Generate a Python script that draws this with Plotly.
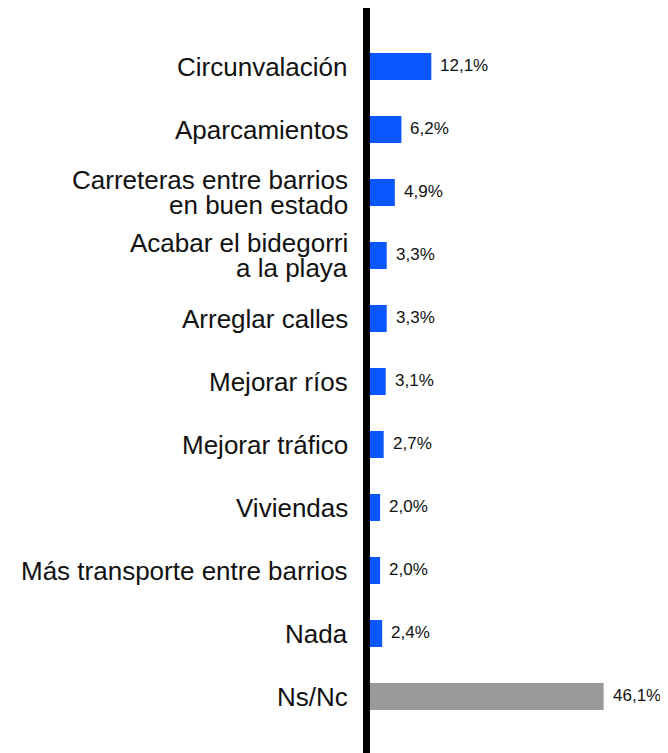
import plotly.graph_objects as go

# Respuestas (%), en el orden en que aparecen de arriba abajo
categorias = [
    "Circunvalación",
    "Aparcamientos",
    "Carreteras entre barrios<br>en buen estado",
    "Acabar el bidegorri<br>a la playa",
    "Arreglar calles",
    "Mejorar ríos",
    "Mejorar tráfico",
    "Viviendas",
    "Más transporte entre barrios",
    "Nada",
    "Ns/Nc",
]
valores = [12.1, 6.2, 4.9, 3.3, 3.3, 3.1, 2.7, 2.0, 2.0, 2.4, 46.1]
etiquetas = ["12,1%", "6,2%", "4,9%", "3,3%", "3,3%", "3,1%", "2,7%", "2,0%", "2,0%", "2,4%", "46,1%"]

AZUL = "#0a57ff"
GRIS = "#999999"
colores = [GRIS if c == "Ns/Nc" else AZUL for c in categorias]

# la pagina deja 8px de margen en el body: la figura se reduce en esa medida
ANCHO, ALTO = 660, 745
ALTO_PLOT = 693

fig = go.Figure(go.Bar(
    x=valores, y=categorias, orientation="h",
    marker_color=colores, marker_line_width=0,
    hoverinfo="skip",
))

# nombres de categoria, una anotacion por linea para controlar el interlineado
for c in categorias:
    lineas = c.split("<br>")
    n = len(lineas)
    for i, linea in enumerate(lineas):
        fig.add_annotation(
            x=0, xref="paper", y=c, yref="y", text=linea,
            showarrow=False, xanchor="right", yanchor="middle",
            xshift=-13, yshift=-(i - (n - 1) / 2) * 25,
            font=dict(size=26, color="#111111"),
        )

# porcentajes
for c, v, t in zip(categorias, valores, etiquetas):
    fig.add_annotation(
        x=v, y=c, text=t, showarrow=False,
        xanchor="left", yanchor="middle", xshift=7, yshift=1,
        font=dict(size=17, color="#111111"),
    )

# eje vertical grueso
fig.add_shape(
    type="rect", xref="x", xsizemode="pixel", xanchor=0, x0=-7, x1=0,
    yref="paper", y0=-25 / ALTO_PLOT, y1=1 + 27 / ALTO_PLOT,
    fillcolor="black", line_width=0, layer="above",
)

fig.update_layout(
    width=ANCHO, height=ALTO,
    margin=dict(l=355, r=0, t=27, b=ALTO - 27 - ALTO_PLOT),
    paper_bgcolor="white", plot_bgcolor="white",
    font=dict(family="Liberation Sans, Arial, sans-serif"),
    bargap=0.571, showlegend=False,
)
fig.update_xaxes(range=[-1.38, 58.8], visible=False)
fig.update_yaxes(autorange="reversed", showticklabels=False, showgrid=False,
                 zeroline=False, showline=False, ticks="")

fig.write_html("out.html")
